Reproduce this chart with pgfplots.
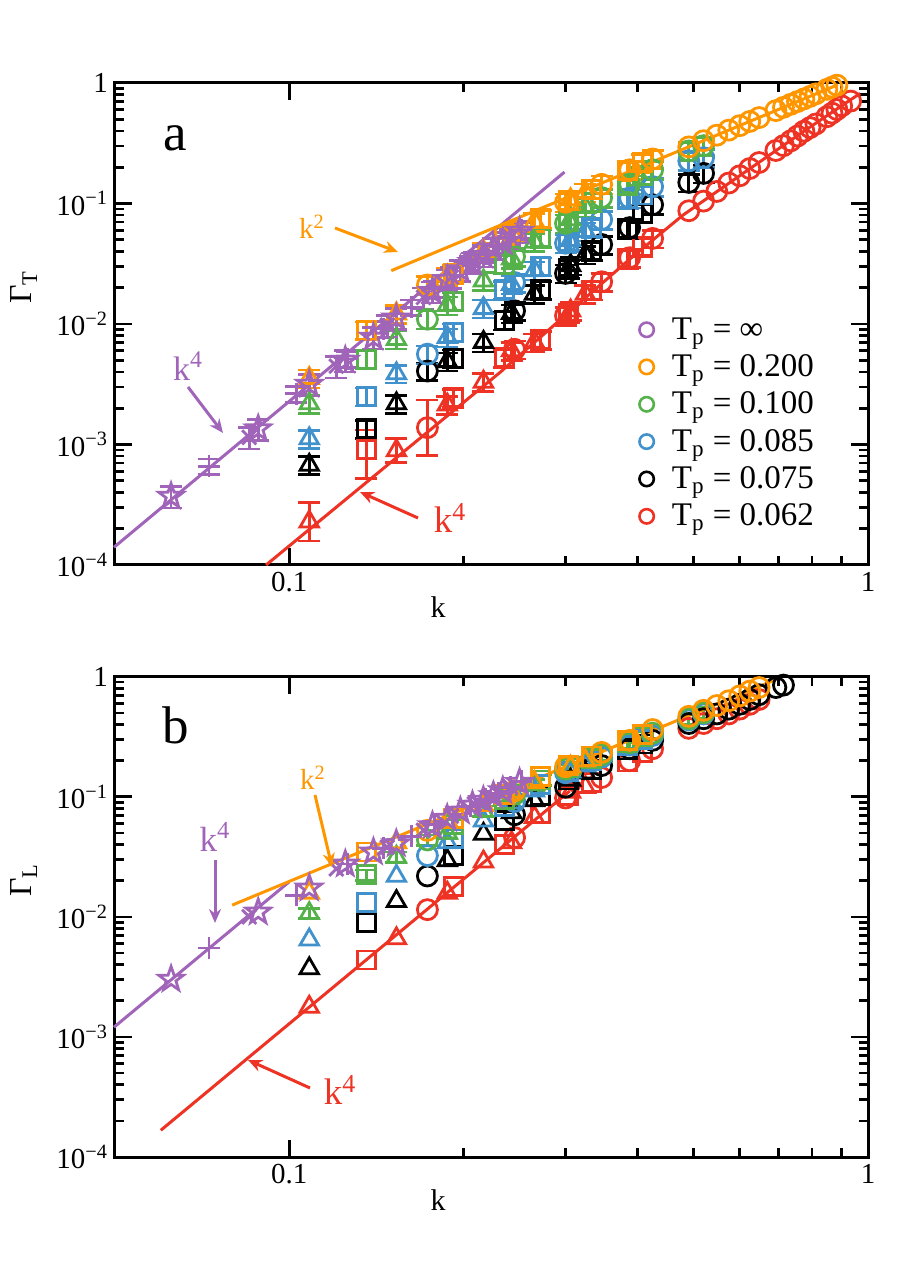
\documentclass[border=0pt]{standalone}
\usepackage{fontspec}
\setmainfont{Liberation Serif}
\usepackage{pgfplots}
\pgfplotsset{compat=1.18}
\usetikzlibrary{arrows.meta}

\definecolor{cP}{RGB}{160,100,185}
\definecolor{cO}{RGB}{255,150,0}
\definecolor{cG}{RGB}{85,178,75}
\definecolor{cB}{RGB}{65,145,205}
\definecolor{cK}{RGB}{0,0,0}
\definecolor{cR}{RGB}{238,50,36}

\pgfdeclareplotmark{ostar}{%
 \pgfpathmoveto{\pgfqpoint{0pt}{\pgfplotmarksize}}%
 \pgfpathlineto{\pgfqpoint{-0.235\pgfplotmarksize}{0.324\pgfplotmarksize}}%
 \pgfpathlineto{\pgfqpoint{-0.951\pgfplotmarksize}{0.309\pgfplotmarksize}}%
 \pgfpathlineto{\pgfqpoint{-0.380\pgfplotmarksize}{-0.124\pgfplotmarksize}}%
 \pgfpathlineto{\pgfqpoint{-0.588\pgfplotmarksize}{-0.809\pgfplotmarksize}}%
 \pgfpathlineto{\pgfqpoint{0pt}{-0.4\pgfplotmarksize}}%
 \pgfpathlineto{\pgfqpoint{0.588\pgfplotmarksize}{-0.809\pgfplotmarksize}}%
 \pgfpathlineto{\pgfqpoint{0.380\pgfplotmarksize}{-0.124\pgfplotmarksize}}%
 \pgfpathlineto{\pgfqpoint{0.951\pgfplotmarksize}{0.309\pgfplotmarksize}}%
 \pgfpathlineto{\pgfqpoint{0.235\pgfplotmarksize}{0.324\pgfplotmarksize}}%
 \pgfpathclose
 \pgfusepathqstroke
}

\pgfplotsset{
  mk/.style={only marks, line width=1.4pt, mark options={line width=1.4pt, solid}},
  mT/.style={mk, mark=triangle, mark size=5.3pt},
  mS/.style={mk, mark=square, mark size=4.5pt},
  mC/.style={mk, mark=o, mark size=5pt},
  mSt/.style={mk, mark=ostar, mark size=6.4pt},
  mP/.style={mk, mark=+, mark size=5.5pt},
  mX/.style={mk, mark=x, mark size=5pt},
  fl/.style={no marks, line width=1.5pt},
}

\begin{document}
\begin{tikzpicture}
\path[use as bounding box] (0,0) rectangle (450pt,637.5pt);

% ================= PANEL A =================
\begin{axis}[xmode=log, ymode=log, xmin=0.05, xmax=1, ymin=1e-4, ymax=1,
    scale only axis, width=376.5pt, height=241pt,
    at={(57.5pt,355pt)}, anchor=south west,
    axis line style={line width=1.5pt},
    tick style={line width=1.3pt, black},
    major tick length=8.5pt, minor tick length=4.5pt,
    tick align=inside,
    xtick={0.1,1}, xticklabels={0.1,1},
    ytick={1e-4,1e-3,1e-2,1e-1,1},
    yticklabels={10\textsuperscript{−4},10\textsuperscript{−3},10\textsuperscript{−2},10\textsuperscript{−1},1},
    tick label style={font=\fontsize{14.5}{17}\selectfont},
    clip=false,
    legend style={draw=none, fill=none, at={(0.688,0.531)}, anchor=north west,
      font=\fontsize{16.5}{18}\selectfont, row sep=2.2pt, column sep=7pt},
    legend cell align=left]

% red
\addplot[forget plot, cR, mT, error bars/.cd, y dir=both, y explicit, error bar style={line width=1.3pt, solid}, error mark options={rotate=90, mark size=5.5pt, line width=1.3pt}] coordinates {(0.1083,2.29e-4) += (0,1.02e-4) -= (0,7.05e-5) (0.1532,8.91e-4) += (0,2.31e-4) -= (0,1.84e-4)};
\addplot[forget plot, cR, mT, error bars/.cd, y dir=both, y fixed relative=0.17, error bar style={line width=1.3pt, solid}, error mark options={rotate=90, mark size=5.5pt, line width=1.3pt}] coordinates {(0.1876,2.14e-3) (0.2166,3.31e-3) (0.2422,6.03e-3) (0.2653,7.08e-3) (0.3063,1.288e-2) (0.3249,1.778e-2)};
\addplot[forget plot, cR, mS, error bars/.cd, y dir=both, y explicit, error bar style={line width=1.3pt, solid}, error mark options={rotate=90, mark size=5.5pt, line width=1.3pt}] coordinates {(0.1359,9.12e-4) += (0,4.06e-4) -= (0,3.87e-4)};
\addplot[forget plot, cR, mS, error bars/.cd, y dir=both, y fixed relative=0.17, error bar style={line width=1.3pt, solid}, error mark options={rotate=90, mark size=5.5pt, line width=1.3pt}] coordinates {(0.1922,2.45e-3) (0.2354,5.25e-3) (0.2718,7.41e-3) (0.3039,1.230e-2) (0.3329,1.905e-2) (0.3844,3.47e-2) (0.4077,4.37e-2)};
\addplot[forget plot, cR, mC, error bars/.cd, y dir=both, y explicit, error bar style={line width=1.3pt, solid}, error mark options={rotate=90, mark size=5.5pt, line width=1.3pt}] coordinates {(0.1733,1.38e-3) += (0,9.64e-4) -= (0,5.67e-4)};
\addplot[forget plot, cR, mC, error bars/.cd, y dir=both, y fixed relative=0.17, error bar style={line width=1.3pt, solid}, error mark options={rotate=90, mark size=5.5pt, line width=1.3pt}] coordinates {(0.2451,6.17e-3) (0.3002,1.175e-2) (0.3466,2.24e-2) (0.3875,3.55e-2) (0.4245,5.13e-2)};
\addplot[forget plot, cR, mC] coordinates {(0.4902,8.71e-2) (0.5199,0.1047) (0.5480,0.1259) (0.5748,0.1479) (0.6003,0.1698) (0.6248,0.1950) (0.6484,0.2188) (0.6932,0.2754) (0.7145,0.3020) (0.7353,0.3311) (0.7554,0.3631) (0.7750,0.3981) (0.7942,0.4266) (0.8128,0.4571) (0.8490,0.5248) (0.8665,0.5623) (0.8837,0.6026) (0.9005,0.6457) (0.9333,0.7079)};
% black
\addplot[forget plot, cK, mT, error bars/.cd, y dir=both, y fixed relative=0.17, error bar style={line width=1.3pt, solid}, error mark options={rotate=90, mark size=5.5pt, line width=1.3pt}] coordinates {(0.1083,6.76e-4) (0.1532,2.19e-3) (0.1876,4.90e-3) (0.2166,7.08e-3) (0.2422,1.230e-2) (0.2653,1.778e-2) (0.3063,3.07e-2) (0.3249,3.78e-2)};
\addplot[forget plot, cK, mS, error bars/.cd, y dir=both, y fixed relative=0.17, error bar style={line width=1.3pt, solid}, error mark options={rotate=90, mark size=5.5pt, line width=1.3pt}] coordinates {(0.1359,1.349e-3) (0.1922,5.22e-3) (0.2354,1.072e-2) (0.2718,1.932e-2) (0.3039,2.88e-2) (0.3329,4.07e-2) (0.3844,6.17e-2) (0.4077,8.32e-2)};
\addplot[forget plot, cK, mC, error bars/.cd, y dir=both, y fixed relative=0.17, error bar style={line width=1.3pt, solid}, error mark options={rotate=90, mark size=5.5pt, line width=1.3pt}] coordinates {(0.1733,4.07e-3) (0.2451,1.288e-2) (0.3002,2.63e-2) (0.3466,4.57e-2) (0.3875,6.31e-2) (0.4245,9.77e-2) (0.4902,0.1496) (0.5199,0.1778)};
% blue
\addplot[forget plot, cB, mT, error bars/.cd, y dir=both, y fixed relative=0.17, error bar style={line width=1.3pt, solid}, error mark options={rotate=90, mark size=5.5pt, line width=1.3pt}] coordinates {(0.1083,1.122e-3) (0.1532,3.89e-3) (0.1876,7.76e-3) (0.2166,1.349e-2) (0.2422,2.14e-2) (0.2653,2.79e-2) (0.3063,4.95e-2) (0.3249,5.89e-2)};
\addplot[forget plot, cB, mS, error bars/.cd, y dir=both, y fixed relative=0.17, error bar style={line width=1.3pt, solid}, error mark options={rotate=90, mark size=5.5pt, line width=1.3pt}] coordinates {(0.1359,2.51e-3) (0.1922,8.57e-3) (0.2354,1.919e-2) (0.2718,3.01e-2) (0.3039,4.84e-2) (0.3329,6.31e-2) (0.3844,0.1096) (0.4077,0.1175)};
\addplot[forget plot, cB, mC, error bars/.cd, y dir=both, y fixed relative=0.17, error bar style={line width=1.3pt, solid}, error mark options={rotate=90, mark size=5.5pt, line width=1.3pt}] coordinates {(0.1733,5.62e-3) (0.2451,2.21e-2) (0.3002,4.68e-2) (0.3466,7.36e-2) (0.3875,0.1109) (0.4245,0.1380) (0.4902,0.2259) (0.5199,0.2399)};
% green
\addplot[forget plot, cG, mT, error bars/.cd, y dir=both, y fixed relative=0.17, error bar style={line width=1.3pt, solid}, error mark options={rotate=90, mark size=5.5pt, line width=1.3pt}] coordinates {(0.1083,2.19e-3) (0.1532,7.48e-3) (0.1876,1.436e-2) (0.2166,2.29e-2) (0.2422,3.48e-2) (0.2653,4.79e-2) (0.3063,7.36e-2) (0.3249,9.31e-2)};
\addplot[forget plot, cG, mS, error bars/.cd, y dir=both, y fixed relative=0.17, error bar style={line width=1.3pt, solid}, error mark options={rotate=90, mark size=5.5pt, line width=1.3pt}] coordinates {(0.1359,5.13e-3) (0.1922,1.552e-2) (0.2354,3.14e-2) (0.2718,5.19e-2) (0.3039,7.14e-2) (0.3329,0.1023) (0.3844,0.1413) (0.4077,0.1698)};
\addplot[forget plot, cG, mC, error bars/.cd, y dir=both, y fixed relative=0.17, error bar style={line width=1.3pt, solid}, error mark options={rotate=90, mark size=5.5pt, line width=1.3pt}] coordinates {(0.1733,1.096e-2) (0.2451,3.63e-2) (0.3002,6.84e-2) (0.3466,0.1119) (0.3875,0.1449) (0.4245,0.1905) (0.4902,0.2729) (0.5199,0.3020)};
% orange
\addplot[forget plot, cO, mT, error bars/.cd, y dir=both, y fixed relative=0.17, error bar style={line width=1.3pt, solid}, error mark options={rotate=90, mark size=5.5pt, line width=1.3pt}] coordinates {(0.1083,3.55e-3) (0.1532,1.219e-2) (0.1876,2.50e-2) (0.2166,4.02e-2) (0.2422,5.73e-2) (0.2653,7.08e-2) (0.3063,0.1081) (0.3249,0.1242)};
\addplot[forget plot, cO, mS, error bars/.cd, y dir=both, y fixed relative=0.17, error bar style={line width=1.3pt, solid}, error mark options={rotate=90, mark size=5.5pt, line width=1.3pt}] coordinates {(0.1359,8.91e-3) (0.1922,2.61e-2) (0.2354,5.37e-2) (0.2718,7.50e-2) (0.3039,0.1059) (0.3329,0.1312) (0.3844,0.1866) (0.4077,0.2178)};
\addplot[forget plot, cO, mC, error bars/.cd, y dir=both, y fixed relative=0.17, error bar style={line width=1.3pt, solid}, error mark options={rotate=90, mark size=5.5pt, line width=1.3pt}] coordinates {(0.1733,2.109e-2) (0.2451,5.89e-2) (0.3002,0.1023) (0.3466,0.1442) (0.3875,0.1905) (0.4245,0.2344)};
\addplot[forget plot, cO, mC] coordinates {(0.4902,0.2951) (0.5199,0.3319) (0.5480,0.3690) (0.5748,0.4064) (0.6003,0.4426) (0.6248,0.4797) (0.6484,0.5164) (0.6932,0.5902) (0.7145,0.6281) (0.7353,0.6653) (0.7554,0.7015) (0.7750,0.7379) (0.7942,0.7745) (0.8128,0.8128) (0.8490,0.8851) (0.8665,0.9226) (0.8837,0.9594)};
% purple
\addplot[forget plot, cP, mSt, error bars/.cd, y dir=both, y fixed relative=0.2, error bar style={line width=1.3pt, solid}, error mark options={rotate=90, mark size=5.5pt, line width=1.3pt}] coordinates {(0.0625,3.72e-4) (0.0884,1.349e-3) (0.1083,3.16e-3) (0.1250,5.01e-3) (0.1398,7.76e-3) (0.1531,1.122e-2) (0.1768,1.862e-2) (0.1875,2.344e-2) (0.1976,2.818e-2) (0.2073,3.24e-2) (0.2165,3.72e-2) (0.2253,4.27e-2) (0.2339,4.79e-2) (0.2500,5.89e-2)};
\addplot[forget plot, cP, mP, error bars/.cd, y dir=both, y fixed relative=0.15, error bar style={line width=1.3pt, solid}, error mark options={rotate=90, mark size=5.5pt, line width=1.3pt}] coordinates {(0.0727,6.61e-4) (0.1028,2.63e-3) (0.1259,5.13e-3) (0.1454,9.12e-3) (0.1626,1.380e-2) (0.1781,1.950e-2) (0.2056,3.16e-2) (0.2181,3.80e-2) (0.2299,4.47e-2) (0.2411,5.25e-2) (0.2518,6.03e-2)};
\addplot[forget plot, cP, mX, error bars/.cd, y dir=both, y fixed relative=0.2, error bar style={line width=1.3pt, solid}, error mark options={rotate=90, mark size=5.5pt, line width=1.3pt}] coordinates {(0.0853,1.148e-3) (0.1206,4.47e-3) (0.1477,9.77e-3) (0.1706,1.660e-2) (0.1907,2.455e-2) (0.2089,3.31e-2) (0.2413,5.25e-2)};
% fit lines
\addplot[forget plot, fl, cP] coordinates {(0.0498,1.403e-4) (0.2990,0.1824)};
\addplot[forget plot, fl, cO] coordinates {(0.1501,2.771e-2) (0.8872,0.9678)};
\addplot[forget plot, fl, cR] coordinates {(0.0912,1.0e-4) (0.2308,3.93e-3) (0.3875,3.45e-2) (0.4786,7.99e-2) (0.6003,0.170) (0.7750,0.398) (0.969,0.82)};
% legend
\addlegendimage{only marks, mark=o, mark size=3.6pt, line width=1.3pt, cP}
\addlegendentry{T\textsubscript{p} = ∞}
\addlegendimage{only marks, mark=o, mark size=3.6pt, line width=1.3pt, cO}
\addlegendentry{T\textsubscript{p} = 0.200}
\addlegendimage{only marks, mark=o, mark size=3.6pt, line width=1.3pt, cG}
\addlegendentry{T\textsubscript{p} = 0.100}
\addlegendimage{only marks, mark=o, mark size=3.6pt, line width=1.3pt, cB}
\addlegendentry{T\textsubscript{p} = 0.085}
\addlegendimage{only marks, mark=o, mark size=3.6pt, line width=1.3pt, cK}
\addlegendentry{T\textsubscript{p} = 0.075}
\addlegendimage{only marks, mark=o, mark size=3.6pt, line width=1.3pt, cR}
\addlegendentry{T\textsubscript{p} = 0.062}
\end{axis}

% ================= PANEL B =================
\begin{axis}[xmode=log, ymode=log, xmin=0.05, xmax=1, ymin=1e-4, ymax=1,
    scale only axis, width=376.5pt, height=240.15pt,
    at={(57.5pt,59pt)}, anchor=south west,
    axis line style={line width=1.5pt},
    tick style={line width=1.3pt, black},
    major tick length=8.5pt, minor tick length=4.5pt,
    tick align=inside,
    xtick={0.1,1}, xticklabels={0.1,1},
    ytick={1e-4,1e-3,1e-2,1e-1,1},
    yticklabels={10\textsuperscript{−4},10\textsuperscript{−3},10\textsuperscript{−2},10\textsuperscript{−1},1},
    tick label style={font=\fontsize{14.5}{17}\selectfont},
    clip=false]
% red
\addplot[cR, mT] coordinates {(0.1083,1.778e-3) (0.1532,6.61e-3) (0.1876,1.585e-2) (0.2166,2.88e-2) (0.2422,4.17e-2) (0.2653,6.76e-2) (0.3063,0.1096) (0.3249,0.1202)};
\addplot[cR, mS] coordinates {(0.1359,4.37e-3) (0.1922,1.778e-2) (0.2354,3.98e-2) (0.2718,7.24e-2) (0.3039,0.1023) (0.3329,0.1318) (0.3844,0.1950) (0.4077,0.2344)};
\addplot[cR, mC] coordinates {(0.1733,1.148e-2) (0.2451,4.57e-2) (0.3002,9.77e-2) (0.3466,0.1445) (0.3875,0.1995) (0.4245,0.2512) (0.4902,0.3715) (0.5199,0.4074) (0.5480,0.4467) (0.5748,0.4898) (0.6003,0.5370) (0.6248,0.5888) (0.6484,0.6457)};
% black
\addplot[cK, mT] coordinates {(0.1083,3.72e-3) (0.1532,1.349e-2) (0.1876,2.95e-2) (0.2166,4.90e-2) (0.2422,7.41e-2) (0.2653,9.33e-2) (0.3063,0.1380) (0.3249,0.1585)};
\addplot[cK, mS] coordinates {(0.1359,8.91e-3) (0.1922,3.24e-2) (0.2354,6.31e-2) (0.2718,0.1023) (0.3039,0.1380) (0.3329,0.1698) (0.3844,0.2455) (0.4077,0.2754)};
\addplot[cK, mC] coordinates {(0.1733,2.19e-2) (0.2451,7.08e-2) (0.3002,0.1202) (0.3466,0.1820) (0.3875,0.2512) (0.4245,0.2951) (0.4902,0.4074) (0.5199,0.4467) (0.5480,0.4898) (0.5748,0.5370) (0.6003,0.5888) (0.6248,0.6457) (0.6484,0.7079) (0.6932,0.8128) (0.7145,0.8511)};
% blue
\addplot[cB, mT] coordinates {(0.1083,6.46e-3) (0.1532,2.19e-2) (0.1876,4.17e-2) (0.2166,6.31e-2) (0.2422,8.91e-2) (0.2653,0.1122) (0.3063,0.1622) (0.3249,0.1820)};
\addplot[cB, mS] coordinates {(0.1359,1.318e-2) (0.1922,4.47e-2) (0.2354,8.32e-2) (0.2718,0.1259) (0.3039,0.1622) (0.3329,0.1995) (0.3844,0.2692) (0.4077,0.3020)};
\addplot[cB, mC] coordinates {(0.1733,3.24e-2) (0.2451,9.12e-2) (0.3002,0.1585) (0.3466,0.2138) (0.3875,0.2692) (0.4245,0.3236) (0.4902,0.4365) (0.5199,0.4898)};
% green
\addplot[cG, mT, error bars/.cd, y dir=both, y fixed relative=0.1, error bar style={line width=1.3pt, solid}, error mark options={rotate=90, mark size=5.5pt, line width=1.3pt}] coordinates {(0.1083,1.072e-2) (0.1532,3.16e-2) (0.1876,5.01e-2) (0.2166,7.59e-2) (0.2422,0.1023) (0.2653,0.1259) (0.3063,0.1738) (0.3249,0.1950)};
\addplot[cG, mS, error bars/.cd, y dir=both, y fixed relative=0.1, error bar style={line width=1.3pt, solid}, error mark options={rotate=90, mark size=5.5pt, line width=1.3pt}] coordinates {(0.1359,2.24e-2) (0.1922,5.89e-2) (0.2354,9.55e-2) (0.2718,0.1380) (0.3039,0.1738) (0.3329,0.2089) (0.3844,0.2818) (0.4077,0.3162)};
\addplot[cG, mC, error bars/.cd, y dir=both, y fixed relative=0.1, error bar style={line width=1.3pt, solid}, error mark options={rotate=90, mark size=5.5pt, line width=1.3pt}] coordinates {(0.1733,4.37e-2) (0.2451,0.1047) (0.3002,0.1698) (0.3466,0.2239) (0.3875,0.2818) (0.4245,0.3388) (0.4902,0.4467) (0.5199,0.5012)};
% orange
\addplot[cO, mT] coordinates {(0.1083,1.585e-2) (0.1532,4.17e-2) (0.1876,6.31e-2) (0.2166,8.51e-2) (0.2422,0.1096) (0.2653,0.1318) (0.3063,0.1778) (0.3249,0.1995)};
\addplot[cO, mS] coordinates {(0.1359,3.47e-2) (0.1922,6.61e-2) (0.2354,0.1047) (0.2718,0.1479) (0.3039,0.1820) (0.3329,0.2188) (0.3844,0.2951) (0.4077,0.3311)};
\addplot[cO, mC] coordinates {(0.1733,5.25e-2) (0.2451,0.1122) (0.3002,0.1778) (0.3466,0.2344) (0.3875,0.2951) (0.4245,0.3631) (0.4902,0.4677) (0.5199,0.5248) (0.5480,0.5754) (0.5748,0.6310) (0.6003,0.6918) (0.6248,0.7586) (0.6484,0.8128)};
% purple
\addplot[cP, mSt] coordinates {(0.0625,3.02e-3) (0.0884,1.096e-2) (0.1083,1.738e-2) (0.1250,2.754e-2) (0.1398,3.47e-2) (0.1531,4.07e-2) (0.1768,5.75e-2) (0.1875,6.61e-2) (0.1976,7.59e-2) (0.2073,8.51e-2) (0.2165,9.33e-2) (0.2253,0.1023) (0.2339,0.1122) (0.2500,0.1318)};
\addplot[cP, mP] coordinates {(0.0727,5.50e-3) (0.1028,1.514e-2) (0.1259,2.754e-2) (0.1454,3.72e-2) (0.1626,4.68e-2) (0.1781,5.89e-2) (0.2056,8.32e-2) (0.2181,9.55e-2) (0.2299,0.1072) (0.2411,0.1202) (0.2518,0.1349)};
\addplot[cP, mX] coordinates {(0.0853,1.00e-2) (0.1206,2.51e-2) (0.1477,3.80e-2) (0.1706,5.25e-2) (0.1907,6.92e-2) (0.2089,8.71e-2) (0.2413,0.1202)};
% fit lines
\addplot[fl, cP] coordinates {(0.0498,1.205e-3) (0.1,1.959e-2)};
\addplot[fl, cO] coordinates {(0.0797,1.252e-2) (0.6904,0.9397)};
\addplot[fl, cR] coordinates {(0.0600,1.67e-4) (0.3051,0.1114)};
\end{axis}

% ================= annotations (pixel coordinates) =================
\begin{scope}[x=0.5pt, y=-0.5pt, yshift=637.5pt]
% panel a
\node[font=\fontsize{26.5}{30}\selectfont] at (175,138) {a};
\node[text=cO, font=\fontsize{14.5}{16}\selectfont] at (312,227) {k\textsuperscript{2}};
\draw[cO, line width=1.5pt, -{Stealth[length=7pt,width=6pt]}] (335,228) -- (398,252);
\node[text=cP, font=\fontsize{17}{19}\selectfont] at (188,366) {k\textsuperscript{4}};
\draw[cP, line width=1.5pt, -{Stealth[length=7pt,width=6pt]}] (188,387) -- (223,433);
\node[text=cR, font=\fontsize{18.5}{20}\selectfont] at (450,518) {k\textsuperscript{4}};
\draw[cR, line width=1.5pt, -{Stealth[length=7pt,width=6pt]}] (418,518) -- (360,492);
\node[font=\fontsize{15}{18}\selectfont] at (438,607) {k};
\node[rotate=90, font=\fontsize{16}{18}\selectfont] at (24,287) {Γ\textsubscript{T}};
% panel b
\node[font=\fontsize{26.5}{30}\selectfont] at (176,725) {b};
\node[text=cP, font=\fontsize{17.5}{19}\selectfont] at (215,837) {k\textsuperscript{4}};
\draw[cP, line width=1.5pt, -{Stealth[length=7pt,width=6pt]}] (215,860) -- (215,923);
\node[text=cO, font=\fontsize{14.5}{16}\selectfont] at (313,778) {k\textsuperscript{2}};
\draw[cO, line width=1.5pt, -{Stealth[length=7pt,width=6pt]}] (315,795) -- (332,867);
\node[text=cR, font=\fontsize{18.5}{20}\selectfont] at (340,1090) {k\textsuperscript{4}};
\draw[cR, line width=1.5pt, -{Stealth[length=7pt,width=6pt]}] (310,1088) -- (248,1060);
\node[font=\fontsize{15}{18}\selectfont] at (438,1200) {k};
\node[rotate=90, font=\fontsize{16}{18}\selectfont] at (24,880) {Γ\textsubscript{L}};
\end{scope}
\end{tikzpicture}
\end{document}
